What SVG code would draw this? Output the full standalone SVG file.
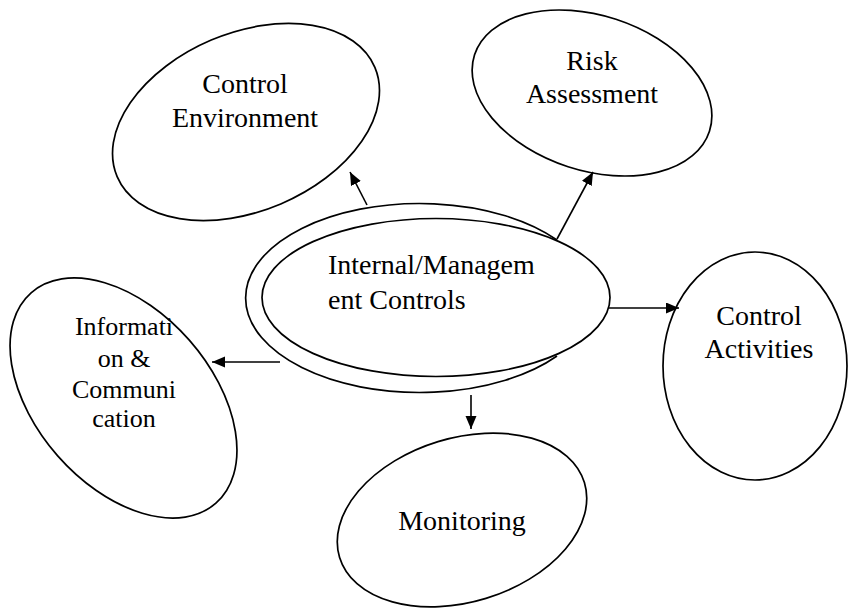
<svg xmlns="http://www.w3.org/2000/svg" width="848" height="609" viewBox="0 0 848 609">
  <style>
    .shape { fill: none; stroke: #000; stroke-width: 1.7; }
    .link { fill: none; stroke: #000; stroke-width: 1.6; }
    .label { font-family: 'Liberation Serif', 'Times New Roman', Times, 'DejaVu Serif', serif; font-size: 28px; fill: #000; }
    .mid { text-anchor: middle; }
    .small { font-size: 26px; }
  </style>
  <defs>
    <marker id="head" markerUnits="userSpaceOnUse" markerWidth="14" markerHeight="12" refX="13" refY="5.5" orient="auto">
      <path d="M0,0 L13,5.5 L0,11 z" fill="#000"/>
    </marker>
  </defs>
  <rect width="848" height="609" fill="#fff"/>

  <!-- central node: double outline -->
  <g id="internal-management-controls">
    <path class="shape" d="M557,240 A174,94.5 0 1 0 557,356"/>
    <ellipse class="shape" cx="436" cy="297.5" rx="174" ry="79"/>
    <text class="label" x="328" y="274" font-family="Liberation Serif, serif">Internal/Managem</text>
    <text class="label" x="328" y="309" font-family="Liberation Serif, serif">ent Controls</text>
  </g>

  <g id="control-environment">
    <ellipse class="shape" cx="246" cy="122" rx="140" ry="89" transform="rotate(-23 246 122)"/>
    <text class="label mid" x="245" y="93">Control</text>
    <text class="label mid" x="245" y="127">Environment</text>
  </g>

  <g id="risk-assessment">
    <ellipse class="shape" cx="592" cy="93" rx="123.5" ry="77.5" transform="rotate(18 592 93)"/>
    <text class="label mid" x="592" y="70">Risk</text>
    <text class="label mid" x="592" y="103">Assessment</text>
  </g>

  <g id="control-activities">
    <ellipse class="shape" cx="755" cy="366" rx="92" ry="114"/>
    <text class="label mid" x="759" y="325">Control</text>
    <text class="label mid" x="759" y="358">Activities</text>
  </g>

  <g id="monitoring">
    <ellipse class="shape" cx="462" cy="520" rx="128" ry="82" transform="rotate(-17 462 520)"/>
    <text class="label mid" x="462" y="530">Monitoring</text>
  </g>

  <g id="information-communication">
    <ellipse class="shape" cx="123.5" cy="398" rx="140" ry="87.6" transform="rotate(48.7 123.5 398)"/>
    <text class="label small mid" x="124" y="335">Informati</text>
    <text class="label small mid" x="124" y="367">on &amp;</text>
    <text class="label small mid" x="124" y="398">Communi</text>
    <text class="label small mid" x="124" y="427">cation</text>
  </g>

  <g id="connectors">
    <line class="link" x1="367" y1="205" x2="350" y2="172" marker-end="url(#head)"/>
    <line class="link" x1="557" y1="239" x2="593" y2="172" marker-end="url(#head)"/>
    <line class="link" x1="609" y1="308" x2="679" y2="308" marker-end="url(#head)"/>
    <line class="link" x1="280" y1="362" x2="212" y2="362" marker-end="url(#head)"/>
    <line class="link" x1="471" y1="395" x2="471" y2="429" marker-end="url(#head)"/>
  </g>
</svg>
